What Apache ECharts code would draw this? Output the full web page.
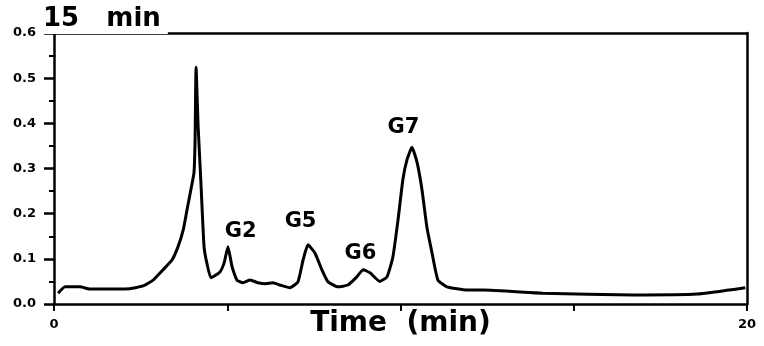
<!DOCTYPE html>
<html>
<head>
<meta charset="utf-8">
<script src="https://cdn.jsdelivr.net/npm/echarts@6/dist/echarts.min.js"></script>
<style>html,body{margin:0;padding:0;background:#fff}#c{width:764px;height:346px}</style>
</head>
<body>
<div id="c"></div>
<script>
// Time (min)
const times = [0.12,0.32,0.75,1.04,2.19,2.57,2.86,3.15,3.41,3.58,3.73,3.84,3.95,4.04,4.07,4.10,4.16,4.24,4.33,4.41,4.53,4.79,4.91,5.02,5.14,5.28,5.45,5.66,5.89,6.10,6.32,6.52,6.81,7.04,7.19,7.33,7.53,7.73,7.91,8.20,8.48,8.74,8.92,9.12,9.40,9.61,9.78,9.93,10.07,10.19,10.33,10.48,10.62,10.76,10.91,11.08,11.34,11.92,12.38,14.10,16.70,18.56,19.95];
// Absorbance
const absorb = [0.024,0.038,0.038,0.033,0.034,0.040,0.053,0.076,0.098,0.127,0.164,0.209,0.253,0.291,0.358,0.524,0.393,0.269,0.127,0.091,0.058,0.071,0.091,0.127,0.082,0.053,0.047,0.053,0.047,0.045,0.047,0.042,0.036,0.049,0.098,0.131,0.113,0.076,0.049,0.038,0.042,0.060,0.076,0.069,0.050,0.060,0.104,0.187,0.276,0.320,0.347,0.313,0.253,0.171,0.113,0.053,0.038,0.031,0.031,0.024,0.020,0.022,0.036];
// Peak annotations
const peakNames = ['G2','G5','G6','G7'];
const peakLabelTimes = [5.40,7.13,8.86,10.10];
const peakLabelValues = [0.160,0.182,0.111,0.389];
const xLabelsShown = [0,20];

const chart = echarts.init(document.getElementById('c'));
const axisLineStyle = {color:'#000', width:2.5};
chart.setOption({
  animation:false,
  backgroundColor:'#fff',
  title:{
    text:'15   min', left:43, top:6,
    padding:[0,7,2,0],
    backgroundColor:'#fff',
    textStyle:{fontFamily:'DejaVu Sans', fontWeight:'bold', fontSize:26, color:'#000'},
    z:10
  },
  grid:{left:54, right:17, top:33, bottom:42, containLabel:false, outerBoundsMode:'none'},
  xAxis:[{
    type:'value', min:0, max:20, interval:5,
    name:'Time  (min)', nameLocation:'middle', nameGap:6, nameMoveOverlap:false,
    nameTextStyle:{fontFamily:'DejaVu Sans', fontWeight:'bold', fontSize:28, color:'#000'},
    axisLine:{show:true, lineStyle:axisLineStyle},
    axisTick:{show:true, inside:false, length:7, lineStyle:{color:'#000', width:2}},
    axisLabel:{margin:14, fontFamily:'DejaVu Sans', fontWeight:'bold', fontSize:13, color:'#000',
      formatter:v => xLabelsShown.includes(v) ? String(v) : ''},
    splitLine:{show:false}
  },{
    type:'value', min:0, max:20, position:'top',
    axisLine:{show:true, onZero:false, lineStyle:axisLineStyle},
    axisTick:{show:false}, axisLabel:{show:false}, splitLine:{show:false}
  }],
  yAxis:[{
    type:'value', min:0, max:0.6, interval:0.1,
    axisLine:{show:true, lineStyle:axisLineStyle},
    axisTick:{show:true, length:10, lineStyle:{color:'#000', width:2.5}},
    minorTick:{show:true, splitNumber:2, length:5, lineStyle:{color:'#000', width:2}},
    axisLabel:{margin:18, fontFamily:'DejaVu Sans', fontWeight:'bold', fontSize:13, color:'#000',
      formatter:v => v.toFixed(1)},
    splitLine:{show:false}
  },{
    type:'value', min:0, max:0.6, position:'right',
    axisLine:{show:true, onZero:false, lineStyle:axisLineStyle},
    axisTick:{show:false}, axisLabel:{show:false}, splitLine:{show:false}
  }],
  series:[{
    type:'line',
    data:times.map((t,i)=>[t,absorb[i]]),
    showSymbol:false, smooth:0.15,
    lineStyle:{color:'#000', width:3}
  },{
    type:'scatter',
    data:peakNames.map((n,i)=>({name:n, value:[peakLabelTimes[i], peakLabelValues[i]]})),
    symbolSize:1, itemStyle:{color:'#fff', opacity:0},
    label:{show:true, position:[0,0], align:'center', verticalAlign:'middle', formatter:p=>p.name,
      fontFamily:'DejaVu Sans', fontWeight:'bold', fontSize:21, color:'#000', opacity:1},
    z:5
  }]
});
</script>
</body>
</html>
